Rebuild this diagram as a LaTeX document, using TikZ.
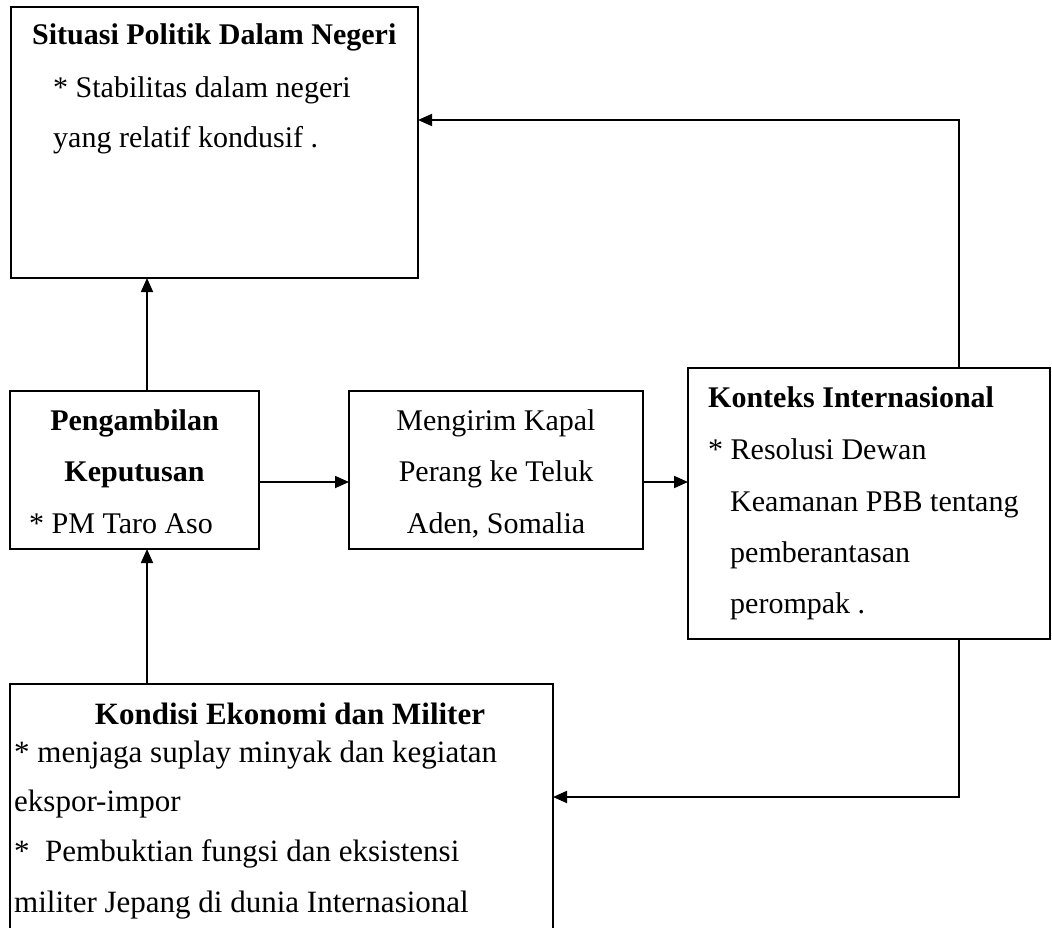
\documentclass[tikz,border=0pt]{standalone}
\usepackage{fontspec}
\setmainfont{Liberation Serif}
\usetikzlibrary{arrows.meta}
\begin{document}
\begin{tikzpicture}[x=1pt,y=-1pt,
  box/.style={draw=black,line width=1.8pt,inner sep=0pt,outer sep=0pt},
  txt/.style={inner sep=0pt,font=\fontsize{30}{36}\selectfont},
  txtb/.style={inner sep=0pt,font=\fontsize{30}{36}\selectfont\bfseries},
  txtk/.style={inner sep=0pt,font=\fontsize{31}{36}\selectfont},
  arr/.style={line width=1.8pt,-{Triangle[length=14pt,width=12pt]}}]
\useasboundingbox (0,0) rectangle (1052,928);
% boxes
\node[box,minimum width=407pt,minimum height=271pt] (sit) at (214.5,142.5) {};
\node[box,minimum width=249pt,minimum height=158pt] (peng) at (134.5,470) {};
\node[box,minimum width=294pt,minimum height=158pt] (kirim) at (496,470) {};
\node[box,minimum width=362pt,minimum height=271pt] (kon) at (869,503.5) {};
\node[box,minimum width=543pt,minimum height=276pt] (kond) at (281.5,822) {};
% texts
\node[txtb,anchor=base west] (s1) at (32,45) {Situasi Politik Dalam Negeri};
\node[txt,anchor=base west] (s2) at (53,98) {* Stabilitas dalam negeri};
\node[txt,anchor=base west] (s3) at (53,148) {yang relatif kondusif .};
\node[txtb,anchor=base] (p1) at (134.5,430) {Pengambilan};
\node[txtb,anchor=base] (p2) at (134.5,481) {Keputusan};
\node[txt,anchor=base west] (p3) at (29,533) {* PM Taro Aso};
\node[txt,anchor=base] (m1) at (496,430) {Mengirim Kapal};
\node[txt,anchor=base] (m2) at (496,481) {Perang ke Teluk};
\node[txt,anchor=base] (m3) at (496,533) {Aden, Somalia};
\node[txtb,anchor=base west] (k1) at (708,407) {Konteks Internasional};
\node[txt,anchor=base west] (k2) at (708,459) {* Resolusi Dewan};
\node[txt,anchor=base west] (k3) at (730,511) {Keamanan PBB tentang};
\node[txt,anchor=base west] (k4) at (730,562) {pemberantasan};
\node[txt,anchor=base west] (k5) at (730,613) {perompak .};
\node[txtb,anchor=base] (d1) at (290,724) {\fontsize{31}{36}\selectfont Kondisi Ekonomi dan Militer};
\node[txtk,anchor=base west] (d2) at (14,762) {* menjaga suplay minyak dan kegiatan};
\node[txtk,anchor=base west] (d3) at (14,811) {ekspor-impor};
\node[txtk,anchor=base west] (d4) at (14,861) {*~ Pembuktian fungsi dan eksistensi};
\node[txtk,anchor=base west] (d5) at (14,912) {militer Jepang di dunia Internasional};
% connector helpers
\coordinate (ax) at (147,0);
\coordinate (kx) at (959,0);
\coordinate (hy) at (0,482);
\coordinate (ty) at (0,120);
\coordinate (by) at (0,797);
% connectors
\draw[arr] (ax |- peng.north) -- (ax |- sit.south);
\draw[arr] (ax |- kond.north) -- (ax |- peng.south);
\draw[arr] (peng.east |- hy) -- (kirim.west |- hy);
\draw[arr] (kirim.east |- hy) -- (kon.west |- hy);
\draw[arr] (kx |- kon.north) -- (kx |- ty) -- (sit.east |- ty);
\draw[arr] (kx |- kon.south) -- (kx |- by) -- (kond.east |- by);
\end{tikzpicture}
\end{document}
